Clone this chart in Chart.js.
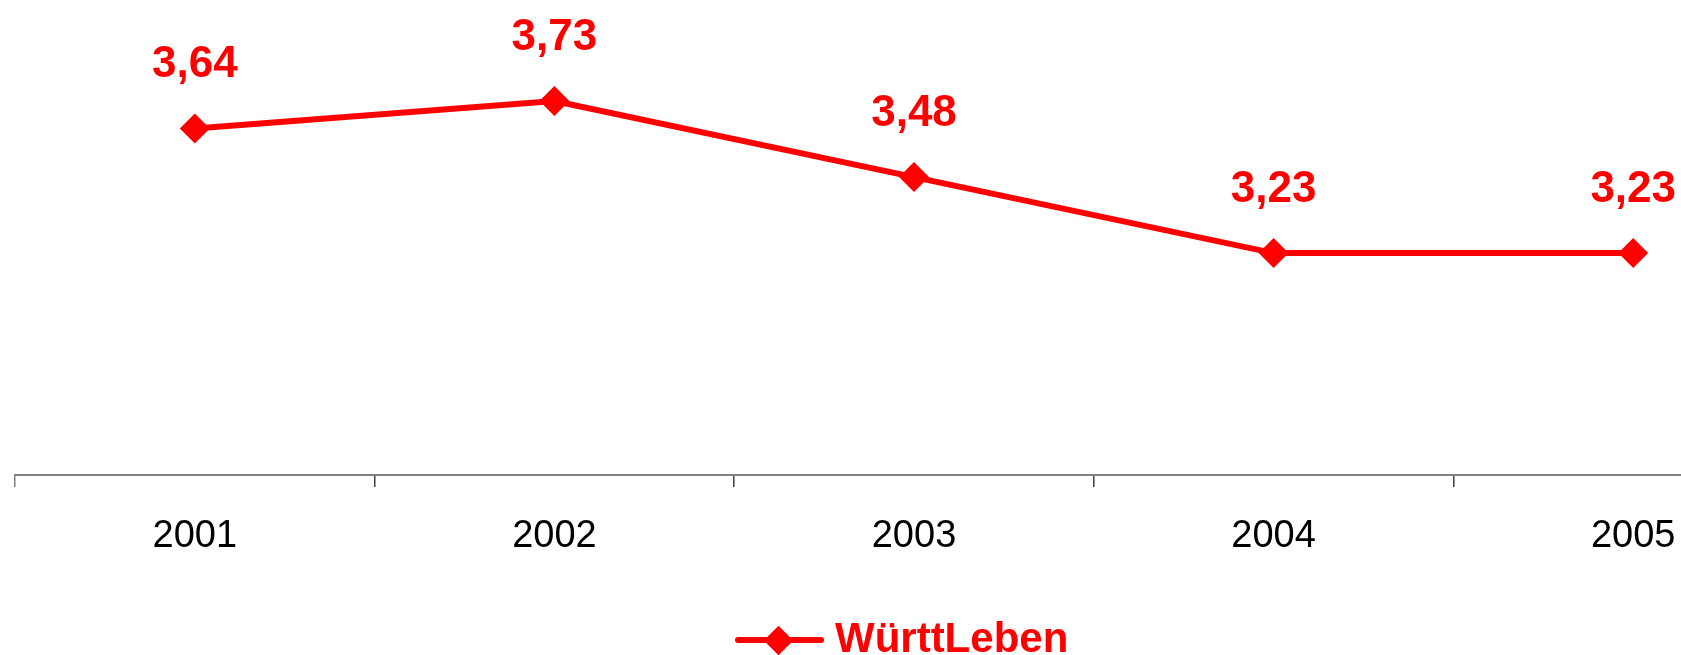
<!DOCTYPE html>
<html lang="de">
<head>
<meta charset="utf-8">
<title>WürttLeben</title>
<script src="https://cdn.jsdelivr.net/npm/chart.js@4/dist/chart.umd.min.js"></script>
<style>
    html, body { margin: 0; padding: 0; background: #ffffff; overflow: hidden; }
    .moldura { position: relative; width: 1681px; height: 655px; overflow: hidden; }
    .moldura canvas { position: absolute; left: 0; top: 0; }
    .legenda-linha { position: absolute; left: 735px; top: 637px; width: 89px; height: 6px; border-radius: 3px; background: #ff0000; }
    .legenda-ponto { position: absolute; left: 768px; top: 630px; width: 21px; height: 21px; background: #ff0000; transform: rotate(45deg); }
    .legenda-texto { position: absolute; left: 835px; top: 617px; font: bold 42px/42px "Liberation Sans", Arial, sans-serif; color: #ff0000; white-space: nowrap; }
</style>
</head>
<body>
<div class="moldura">
    <canvas id="grafico" width="1830" height="655"></canvas>
    <div class="legenda-linha"></div>
    <div class="legenda-ponto"></div>
    <div class="legenda-texto" id="legendaTexto"></div>
</div>
<script>
const anos = ['2001', '2002', '2003', '2004', '2005'];
const valoresWurttLeben = [3.64, 3.73, 3.48, 3.23, 3.23];
const nomeSerie = 'WürttLeben';
const limitesEixoY = [2.5, 4.0];

const corSerie = '#ff0000';
const corEixo = '#808080';
const corMarcaEixo = '#404040';
const fonteBase = '"Liberation Sans", Arial, sans-serif';

function formatarValor(valor) {
    return valor.toFixed(2).replace('.', ',');
}

// rótulos dos valores acima de cada ponto
const rotulosValores = {
    id: 'rotulosValores',
    afterDatasetsDraw(chart) {
        const ctx = chart.ctx;
        const meta = chart.getDatasetMeta(0);
        ctx.save();
        ctx.font = `bold 44px ${fonteBase}`;
        ctx.fillStyle = corSerie;
        ctx.textAlign = 'center';
        ctx.textBaseline = 'alphabetic';
        meta.data.forEach((ponto, indice) => {
            ctx.fillText(formatarValor(valoresWurttLeben[indice]), ponto.x, ponto.y - 51);
        });
        ctx.restore();
    }
};

function criarGrafico() {
    document.getElementById('legendaTexto').textContent = nomeSerie;

    new Chart(document.getElementById('grafico'), {
        type: 'line',
        data: {
            labels: anos,
            datasets: [{
                label: nomeSerie,
                data: valoresWurttLeben,
                borderColor: corSerie,
                backgroundColor: corSerie,
                borderWidth: 6,
                tension: 0,
                fill: false,
                pointStyle: 'rectRot',
                pointRadius: 15,
                pointHoverRadius: 15,
                pointBorderWidth: 0,
                pointBackgroundColor: corSerie
            }]
        },
        options: {
            responsive: false,
            animation: false,
            layout: { padding: { top: 19, left: 13, right: 17, bottom: 0 } },
            plugins: {
                legend: { display: false },
                tooltip: { enabled: false }
            },
            scales: {
                x: {
                    offset: true,
                    border: { display: true, color: corEixo, width: 2 },
                    grid: {
                        offset: true,
                        drawOnChartArea: false,
                        drawTicks: true,
                        tickLength: 12,
                        color: contexto => contexto.index === 0 ? corEixo : corMarcaEixo,
                        lineWidth: 1.5
                    },
                    ticks: {
                        color: '#000000',
                        padding: 27,
                        maxRotation: 0,
                        font: { family: fonteBase, size: 38 }
                    },
                    afterFit(escala) { escala.height = 180; }
                },
                y: {
                    display: false,
                    min: limitesEixoY[0],
                    max: limitesEixoY[1]
                }
            }
        },
        plugins: [rotulosValores]
    });
}

criarGrafico();
</script>
</body>
</html>
